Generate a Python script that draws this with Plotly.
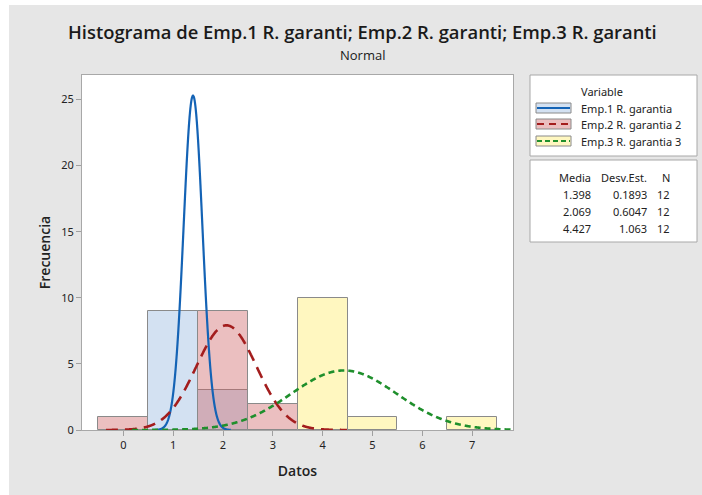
import numpy as np
import plotly.graph_objects as go

# Histogram bins (centred on integers, width 1) and counts per variable
bins = [0, 1, 2, 3, 4, 5, 6, 7]
emp1_counts = [0, 9, 3, 0, 0, 0, 0, 0]
emp2_counts = [1, 0, 9, 2, 0, 0, 0, 0]
emp3_counts = [0, 0, 0, 0, 10, 1, 0, 1]

names = ["Emp.1 R. garantia", "Emp.2 R. garantia 2", "Emp.3 R. garantia 3"]
means = [1.398, 2.069, 4.427]
sds = [0.1893, 0.6047, 1.063]
ns = [12, 12, 12]

fills = ["rgba(211,225,242,1)", "rgba(205,95,97,0.4)", "rgba(255,247,192,1)"]
line_colors = ["#1463b5", "#a31d1d", "#1f8f2c"]
dashes = ["solid", "12px,7px", "6px,4px"]
widths = [2.2, 2.6, 2.6]

W, H = 702, 495
L, R, T, B = 82, 513, 75, 430  # plotting area in pixels

TITLE_FONT = "Open Sans, Noto Sans, sans-serif"


def px(x):
    return (x - L) / (R - L)


def py(y):
    return (B - y) / (B - T)


fig = go.Figure()

for counts, fill in zip([emp1_counts, emp2_counts, emp3_counts], fills):
    xs = [b for b, c in zip(bins, counts) if c > 0]
    ys = [c for c in counts if c > 0]
    fig.add_trace(go.Bar(
        x=xs, y=ys, width=1,
        marker=dict(color=fill, line=dict(color="#8a8a8a", width=1)),
        showlegend=False, hoverinfo="skip",
    ))

# Fitted normal curves scaled to counts (N * bin width)
for m, s, n, col, dsh, w in zip(means, sds, ns, line_colors, dashes, widths):
    xs = np.linspace(m - 4 * s, m + 4 * s, 600)
    ys = n * 1.0 / (s * np.sqrt(2 * np.pi)) * np.exp(-0.5 * ((xs - m) / s) ** 2)
    fig.add_trace(go.Scatter(
        x=xs, y=ys, mode="lines",
        line=dict(color=col, dash=dsh, width=w, shape="spline"),
        showlegend=False, hoverinfo="skip",
    ))

shapes = []
annotations = []

# white strips along the top and left edges of the page
shapes.append(dict(type="rect", xref="paper", yref="paper", layer="below",
                   x0=px(0), x1=px(9), y0=py(H), y1=py(0),
                   fillcolor="white", line=dict(width=0)))
shapes.append(dict(type="rect", xref="paper", yref="paper", layer="below",
                   x0=px(0), x1=px(W), y0=py(5), y1=py(0),
                   fillcolor="white", line=dict(width=0)))

# Legend box
bx0, bx1 = 530, 697
shapes.append(dict(type="rect", xref="paper", yref="paper",
                   x0=px(bx0), x1=px(bx1), y0=py(156), y1=py(75),
                   fillcolor="white", line=dict(color="#a8a8a8", width=1)))
annotations.append(dict(text="Variable", xref="paper", yref="paper",
                        x=px(579), y=py(91), xanchor="left", yanchor="middle",
                        showarrow=False, font=dict(size=11, color="#222")))
row_y = [108, 124, 141]
legend_dash = ["solid", "7px,5px", "5px,3px"]
for name, fill, col, dsh, yy in zip(names, fills, line_colors, legend_dash, row_y):
    shapes.append(dict(type="rect", xref="paper", yref="paper",
                       x0=px(536), x1=px(571), y0=py(yy + 5), y1=py(yy - 5),
                       fillcolor=fill, line=dict(color="#8a8a8a", width=1)))
    shapes.append(dict(type="line", xref="paper", yref="paper",
                       x0=px(537), x1=px(570), y0=py(yy), y1=py(yy),
                       line=dict(color=col, width=2.2, dash=dsh)))
    annotations.append(dict(text=name, xref="paper", yref="paper",
                            x=px(579), y=py(yy), xanchor="left", yanchor="middle",
                            showarrow=False, font=dict(size=11, color="#222")))

# Summary statistics box
shapes.append(dict(type="rect", xref="paper", yref="paper",
                   x0=px(bx0), x1=px(bx1), y0=py(242), y1=py(160),
                   fillcolor="white", line=dict(color="#a8a8a8", width=1)))
stat_rows = [("Media", "Desv.Est.", "N")] + [
    (f"{m:.3f}", f"{s:.4g}", str(n)) for m, s, n in zip(means, sds, ns)]
stat_y = [177, 194, 211, 228]
for (a, b, c), yy in zip(stat_rows, stat_y):
    for txt, xr in ((a, 593), (b, 649), (c, 672)):
        annotations.append(dict(text=txt, xref="paper", yref="paper",
                                x=px(xr), y=py(yy), xanchor="right", yanchor="middle",
                                showarrow=False, font=dict(size=11, color="#222")))

# Titles
annotations.append(dict(text="Histograma de Emp.1 R. garanti; Emp.2 R. garanti; Emp.3 R. garanti",
                        xref="paper", yref="paper", x=px(362), y=py(32),
                        xanchor="center", yanchor="middle", showarrow=False,
                        font=dict(size=18.4, color="#1a1a1a", weight=600, family=TITLE_FONT)))
annotations.append(dict(text="Normal", xref="paper", yref="paper", x=px(362), y=py(55),
                        xanchor="center", yanchor="middle", showarrow=False,
                        font=dict(size=13, color="#1a1a1a", weight=500, family=TITLE_FONT)))

fig.update_layout(
    width=W, height=H,
    margin=dict(l=L, r=W - R, t=T, b=H - B),
    paper_bgcolor="#e6e6e6", plot_bgcolor="white",
    barmode="overlay", bargap=0,
    font=dict(family="Noto Sans, Open Sans, sans-serif", color="#222"),
    shapes=shapes, annotations=annotations,
    xaxis=dict(range=[-0.83, 7.82], tickmode="array", tickvals=bins,
               ticks="outside", ticklen=5, tickcolor="#a0a0a0",
               showline=True, linecolor="#a8a8a8", mirror=True,
               showgrid=False, zeroline=False, tickfont=dict(size=11),
               title=dict(text="Datos", font=dict(size=14, weight=600, family=TITLE_FONT),
                          standoff=14)),
    yaxis=dict(range=[0, 26.85], tickmode="array", tickvals=[0, 5, 10, 15, 20, 25],
               ticks="outside", ticklen=5, tickcolor="#a0a0a0",
               showline=True, linecolor="#a8a8a8", mirror=True,
               showgrid=False, zeroline=False, tickfont=dict(size=11),
               title=dict(text="Frecuencia", font=dict(size=14, weight=600, family=TITLE_FONT),
                          standoff=7)),
)

fig.write_html("out.html")
